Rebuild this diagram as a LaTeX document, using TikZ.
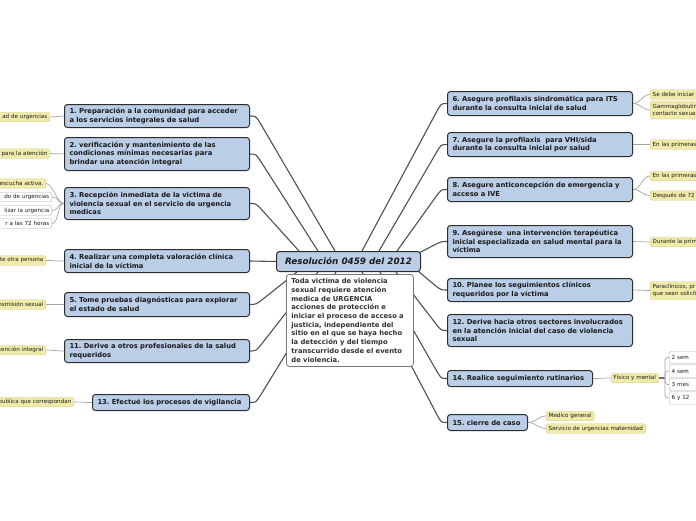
\documentclass[tikz,border=0pt]{standalone}
\usepackage{fontspec}
\setmainfont{DejaVu Sans}
\usetikzlibrary{calc}
\frenchspacing
\definecolor{mainfill}{RGB}{187,206,231}
\definecolor{mainborder}{RGB}{45,45,45}
\definecolor{conn}{RGB}{80,80,80}
\definecolor{leafconn}{RGB}{165,165,165}
\definecolor{leafyellow}{RGB}{240,235,170}
\definecolor{leafyborder}{RGB}{212,205,140}
\definecolor{leafwborder}{RGB}{175,175,175}
\definecolor{txt}{RGB}{25,25,25}
\definecolor{desctxt}{RGB}{50,50,50}
\definecolor{descborder}{RGB}{120,120,120}
\definecolor{subline}{RGB}{110,110,110}
\pgfdeclarelayer{bg}
\pgfdeclarelayer{canvas}
\pgfsetlayers{canvas,bg,main}
\begin{document}
\begin{tikzpicture}[x=1pt,y=-1pt,
  mainbox/.style={draw=mainborder, fill=mainfill, line width=1pt, rounded corners=3pt,
    inner xsep=5pt, inner ysep=1.5pt, align=left, anchor=north west,
    font=\fontsize{6.8}{8.7}\selectfont\bfseries, text=txt},
  titlebox/.style={draw=mainborder, fill=mainfill, line width=1pt, rounded corners=3pt,
    inner sep=1pt, anchor=north west, align=center,
    font=\fontsize{8.8}{10}\selectfont\bfseries\itshape, text=txt},
  descbox/.style={draw=descborder, fill=white, line width=0.8pt, rounded corners=3pt,
    inner xsep=5pt, inner ysep=2pt, align=left, anchor=north west,
    font=\fontsize{6.8}{8.7}\selectfont\bfseries, text=desctxt},
  leafy/.style={fill=leafyellow, draw=leafyborder, line width=0.4pt, rounded corners=1.5pt,
    inner xsep=2.5pt, inner ysep=1pt, minimum height=9.5pt,
    font=\fontsize{5.6}{6.8}\selectfont, text=txt},
  leafw/.style={leafy, fill=white, draw=leafwborder},
  lleaf/.style={anchor=east, text width=100pt, align=right},
  rleaf/.style={anchor=west, text width=100pt, align=left},
  mconn/.style={draw=conn, line width=1.1pt},
  lconn/.style={draw=leafconn, line width=0.7pt},
  sconn/.style={draw=subline, line width=1.5pt}
]
\useasboundingbox (0,0) rectangle (696,520);
\begin{pgfonlayer}{canvas}
\fill[white] (0,0) rectangle (696,520);
\end{pgfonlayer}

% central
\node[titlebox, minimum width=144pt, minimum height=20pt] (res) at (276,251) {Resolución 0459 del 2012};
\node[descbox, minimum width=127pt, minimum height=92pt, text width=117pt] (desc) at (286,274)
 {Toda victima de violencia\\sexual requiere atención\\medica de URGENCIA\\acciones de protección e\\iniciar el proceso de acceso a\\justicia, independiente del\\sitio en el que se haya hecho\\la detección y del tiempo\\transcurrido desde el evento\\de violencia.};

% left main nodes
\node[mainbox, minimum height=23pt, text width=175pt] (n1) at (64,104) {1. Preparación a la comunidad para acceder\\a los servicios integrales de salud};
\node[mainbox, minimum height=33pt, text width=175pt] (n2) at (64,137) {2. verificación y mantenimiento de las\\condiciones mínimas necesarias para\\brindar una atención integral};
\node[mainbox, minimum height=32pt, text width=175pt] (n3) at (64,187) {3. Recepción inmediata de la victima de\\violencia sexual en el servicio de urgencia\\medicas};
\node[mainbox, minimum height=23pt, text width=175pt] (n4) at (64,249) {4. Realizar una completa valoración clínica\\inicial de la víctima};
\node[mainbox, minimum height=24pt, text width=175pt] (n5) at (64,292) {5. Tome pruebas diagnósticas para explorar\\el estado de salud};
\node[mainbox, minimum height=23pt, text width=175pt] (n11) at (64,339) {11. Derive a otros profesionales de la salud\\requeridos};
\node[mainbox, minimum height=16pt, text width=147pt] (n13) at (92,394) {13. Efectué los procesos de vigilancia};

% right main nodes
\node[mainbox, minimum height=24pt, text width=175pt] (n6) at (447,91) {6. Asegure profilaxis sindromática para ITS\\durante la consulta inicial de salud};
\node[mainbox, minimum height=24pt, text width=175pt] (n7) at (447,132) {7. Asegure la profilaxis\ \ para VHI/sida\\durante la consulta inicial por salud};
\node[mainbox, minimum height=24pt, text width=175pt] (n8) at (447,177) {8. Asegure anticoncepción de emergencia y\\acceso a IVE};
\node[mainbox, minimum height=32pt, text width=175pt] (n9) at (447,225) {9. Asegúrese\ \ una intervención terapéutica\\inicial especializada en salud mental para la\\víctima};
\node[mainbox, minimum height=23pt, text width=175pt] (n10) at (447,278) {10. Planee los seguimientos clínicos\\requeridos por la víctima};
\node[mainbox, minimum height=32pt, text width=175pt] (n12) at (447,314) {12. Derive hacia otros sectores involucrados\\en la atención inicial del caso de violencia\\sexual};
\node[mainbox, minimum height=16pt, text width=135pt] (n14) at (447,370) {14. Realice seguimiento rutinarios};
\node[mainbox, minimum height=16pt, text width=70pt] (n15) at (447,414) {15. cierre de caso};

% left leaves
\node[leafy, lleaf] (L1) at (50,117) {ad de urgencias};
\node[leafy, lleaf] (L2) at (50,153.5) {para la atención};
\node[leafy, lleaf] (L3a) at (46,183.5) {escucha activa.};
\node[leafw, lleaf] (L3b) at (52,197) {do de urgencias};
\node[leafw, lleaf] (L3c) at (52,210.5) {lizar la urgencia};
\node[leafw, lleaf] (L3d) at (52,223.5) {r a las 72 horas};
\node[leafy, lleaf] (L4) at (46,260.5) {te otra persona};
\node[leafy, lleaf] (L5) at (46,304.5) {nsmisión sexual};
\node[leafy, lleaf] (L11) at (46,350) {tención integral};
\node[leafy, lleaf] (L13) at (74,402) {publica que correspondan};

% right leaves
\node[leafy, rleaf] (R6a) at (650,94.5) {Se debe iniciar};
\node[leafy, rleaf, minimum height=18pt] (R6b) at (650,110) {Gammaglobulin\\contacto sexua};
\node[leafy, rleaf] (R7) at (650,144.5) {En las primeras};
\node[leafy, rleaf] (R8a) at (650,176) {En las primeras};
\node[leafy, rleaf] (R8b) at (650,195.5) {Después de 72};
\node[leafy, rleaf] (R9) at (650,242) {Durante la prim};
\node[leafy, rleaf, minimum height=18pt] (R10) at (650,290.5) {Paraclínicos, pr\\que sean solicit};
\node[leafy, anchor=west] (F14) at (611,378) {Físico y mental};
\coordinate (fj) at (665,378);
\node[leafw, rleaf, minimum height=12.5pt] (S1) at (669,357.5) {2 sem};
\node[leafw, rleaf, minimum height=12.5pt] (S2) at (669,371) {4 sem};
\node[leafw, rleaf, minimum height=12.5pt] (S3) at (669,384.5) {3 mes};
\node[leafw, rleaf, minimum height=12.5pt] (S4) at (669,398) {6 y 12};
\node[leafy, anchor=west] (M15) at (546,416) {Medico general};
\node[leafy, anchor=west] (V15) at (546,428.5) {Servicio de urgencias maternidad};

\begin{pgfonlayer}{bg}
% main connectors
\draw[mconn] ($(res.north west)+(59,0)$) -- ($(n1.east)+(11.1,8.6)$) .. controls ($(n1.east)+(6,0)$) .. (n1.east);
\draw[mconn] ($(res.north west)+(42,0)$) -- ($(n2.east)+(11.4,8.4)$) .. controls ($(n2.east)+(6,0)$) .. (n2.east);
\draw[mconn] ($(res.north west)+(23,0)$) -- ($(n3.east)+(12.8,7.4)$) .. controls ($(n3.east)+(6,0)$) .. (n3.east);
\draw[mconn] (res.west) -- (n4.east);
\draw[mconn] ($(res.south west)+(21,0)$) -- ($(n5.east)+(13.9,-6.2)$) .. controls ($(n5.east)+(6,0)$) .. (n5.east);
\draw[mconn] ($(res.south west)+(42,0)$) -- ($(n11.east)+(12.2,-7.8)$) .. controls ($(n11.east)+(6,0)$) .. (n11.east);
\draw[mconn] ($(res.south west)+(60,0)$) -- ($(n13.east)+(11.3,-8.5)$) .. controls ($(n13.east)+(6,0)$) .. (n13.east);
\draw[mconn] ($(res.north west)+(86,0)$) -- ($(n6.west)+(-10.7,8.8)$) .. controls ($(n6.west)+(-6,0)$) .. (n6.west);
\draw[mconn] ($(res.north west)+(103,0)$) -- ($(n7.west)+(-11,8.7)$) .. controls ($(n7.west)+(-6,0)$) .. (n7.west);
\draw[mconn] ($(res.north west)+(121,0)$) -- ($(n8.west)+(-11.8,8.2)$) .. controls ($(n8.west)+(-6,0)$) .. (n8.west);
\draw[mconn] ($(res.north east)+(-2,2)$) -- ($(n9.west)+(-13.1,3.7)$) .. controls ($(n9.west)+(-6,0)$) .. (n9.west);
\draw[mconn] ($(res.south east)+(-3,-1)$) -- ($(n10.west)+(-12.3,-4.9)$) .. controls ($(n10.west)+(-6,0)$) .. (n10.west);
\draw[mconn] ($(res.south west)+(120,0)$) -- ($(n12.west)+(-12.1,-8)$) .. controls ($(n12.west)+(-6,0)$) .. (n12.west);
\draw[mconn] ($(res.south west)+(104,0)$) -- ($(n14.west)+(-11,-8.7)$) .. controls ($(n14.west)+(-6,0)$) .. (n14.west);
\draw[mconn] ($(res.south west)+(86,0)$) -- ($(n15.west)+(-10.6,-8.9)$) .. controls ($(n15.west)+(-6,0)$) .. (n15.west);

% left leaf connectors
\foreach \a/\b in {L1/n1, L2/n2, L3a/n3, L3b/n3, L3c/n3, L3d/n3, L4/n4, L5/n5, L11/n11, L13/n13}
  \draw[lconn] (\a.east) .. controls ($(\a.east)+(7,0)$) and ($(\b.west)+(-7,0)$) .. (\b.west);
% right leaf connectors
\foreach \a/\b in {n6/R6a, n6/R6b, n7/R7, n8/R8a, n8/R8b, n9/R9, n10/R10, n14/F14, n15/M15, n15/V15}
  \draw[lconn] (\a.east) .. controls ($(\a.east)+(8,0)$) and ($(\b.west)+(-8,0)$) .. (\b.west);
\draw[sconn] (F14.east) -- (fj);
\foreach \s in {S1,S2,S3,S4}
  \draw[lconn, rounded corners=3pt] (fj) |- (\s.west);
\end{pgfonlayer}
\end{tikzpicture}
\end{document}
